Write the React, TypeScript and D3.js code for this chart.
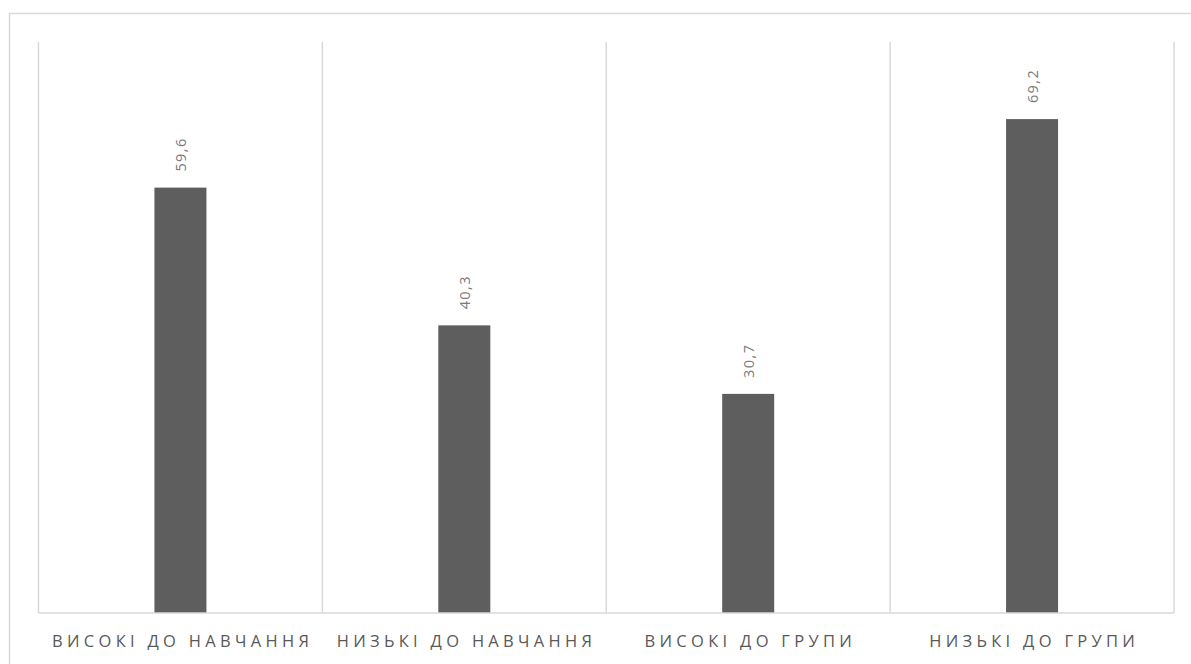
import React from "react";
import * as d3 from "d3";

const categories = ["ВИСОКІ ДО НАВЧАННЯ", "НИЗЬКІ ДО НАВЧАННЯ", "ВИСОКІ ДО ГРУПИ", "НИЗЬКІ ДО ГРУПИ"];
const values = [59.6, 40.3, 30.7, 69.2];
const labels = ["59,6", "40,3", "30,7", "69,2"];
const yDomain = [0, 80];

const W = 1191;
const H = 664;
const plot = { left: 38.5, right: 1174, top: 42, bottom: 613 };

export default function App() {
  const x = d3.scaleBand<string>().domain(categories).range([plot.left, plot.right]).paddingInner(0).paddingOuter(0);
  const y = d3.scaleLinear().domain(yDomain).range([plot.bottom, plot.top]);
  const barW = 52;
  const grid = "#d9d9d9";
  const ls = 4.3;
  const dls = 1.4;
  return (
    <svg width={W} height={H} style={{ position: "absolute", left: 0, top: 0 }} fontFamily="'Open Sans', sans-serif">
      <rect x={0} y={0} width={W} height={H} fill="#ffffff" />
      <rect x={9.5} y={13.5} width={W + 20} height={H + 20} fill="none" stroke={grid} strokeWidth={1.5} />
      {categories.map((c) => (
        <line key={"g" + c} x1={x(c)!} x2={x(c)!} y1={plot.top} y2={plot.bottom} stroke={grid} strokeWidth={1.5} />
      ))}
      <line x1={plot.right} x2={plot.right} y1={plot.top} y2={plot.bottom} stroke={grid} strokeWidth={1.5} />
      {categories.map((c, i) => {
        const cx = x(c)! + x.bandwidth() / 2;
        return (
          <g key={c}>
            <rect x={cx - barW / 2} y={y(values[i])} width={barW} height={plot.bottom - y(values[i])} fill="#5e5e5e" />
            <text
              transform={`translate(${cx + 5.5},${y(values[i]) - 16}) rotate(-90)`}
              fontSize={14.5}
              fill="#7a7a7a"
              textAnchor="start"
              letterSpacing={dls}
            >
              {labels[i]}
            </text>
            <text x={cx + ls / 2} y={646.5} fontSize={16.5} fill="#595959" textAnchor="middle" letterSpacing={ls}>
              {c}
            </text>
          </g>
        );
      })}
      <line x1={plot.left} x2={plot.right} y1={plot.bottom} y2={plot.bottom} stroke={grid} strokeWidth={1.5} />
    </svg>
  );
}
